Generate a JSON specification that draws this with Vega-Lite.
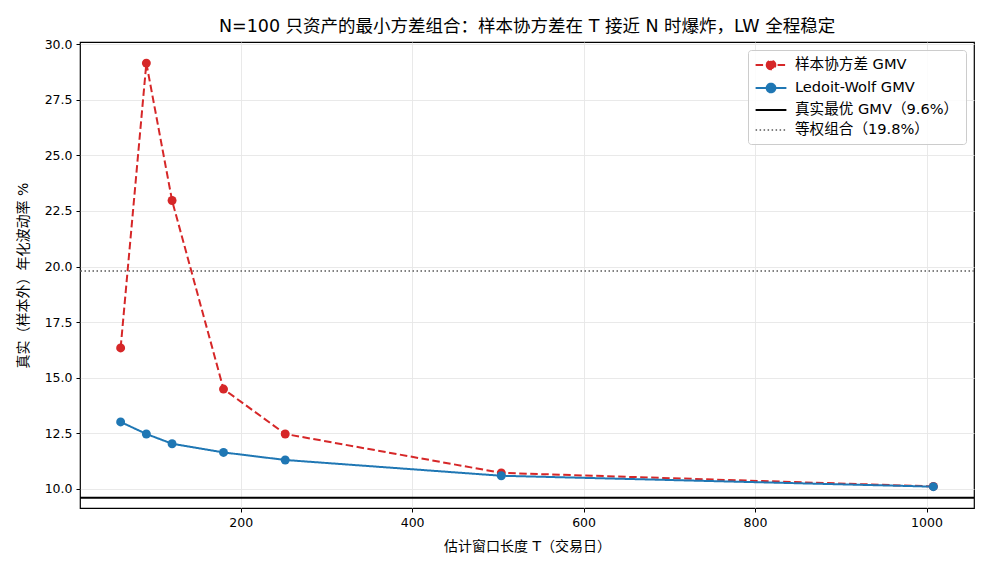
{
  "$schema": "https://vega.github.io/schema/vega-lite/v6.json",
  "width": 894,
  "height": 466,
  "autosize": {"type": "none"},
  "padding": {"left": 80, "top": 42, "right": 16, "bottom": 64},
  "background": "white",
  "config": {
    "font": "DejaVu Sans, Noto Sans CJK SC",
    "view": {"stroke": "black", "strokeWidth": 1.2},
    "axis": {
      "labelFont": "DejaVu Sans, Noto Sans CJK SC",
      "titleFont": "DejaVu Sans, Noto Sans CJK SC",
      "labelFontSize": 12.5,
      "titleFontSize": 14,
      "titleFontWeight": "normal",
      "labelColor": "#000",
      "titleColor": "#000",
      "gridColor": "#e6e6e6",
      "gridWidth": 0.9,
      "tickColor": "#000",
      "tickSize": 4,
      "domain": false,
      "labelPadding": 4
    }
  },
  "title": {
    "text": "N=100 只资产的最小方差组合：样本协方差在 T 接近 N 时爆炸，LW 全程稳定",
    "fontSize": 17.5,
    "fontWeight": "normal",
    "font": "DejaVu Sans, Noto Sans CJK SC",
    "color": "#000",
    "anchor": "middle",
    "offset": 3
  },
  "datasets": {
    "curves": [
      {"T": 60, "series": "样本协方差 GMV", "vol": 16.34},
      {"T": 90, "series": "样本协方差 GMV", "vol": 29.15},
      {"T": 120, "series": "样本协方差 GMV", "vol": 22.97},
      {"T": 180, "series": "样本协方差 GMV", "vol": 14.49},
      {"T": 252, "series": "样本协方差 GMV", "vol": 12.47},
      {"T": 504, "series": "样本协方差 GMV", "vol": 10.72},
      {"T": 1008, "series": "样本协方差 GMV", "vol": 10.11},
      {"T": 60, "series": "Ledoit-Wolf GMV", "vol": 13.01},
      {"T": 90, "series": "Ledoit-Wolf GMV", "vol": 12.47},
      {"T": 120, "series": "Ledoit-Wolf GMV", "vol": 12.03},
      {"T": 180, "series": "Ledoit-Wolf GMV", "vol": 11.64},
      {"T": 252, "series": "Ledoit-Wolf GMV", "vol": 11.30},
      {"T": 504, "series": "Ledoit-Wolf GMV", "vol": 10.59},
      {"T": 1008, "series": "Ledoit-Wolf GMV", "vol": 10.10}
    ],
    "refs": [
      {"series": "真实最优 GMV（9.6%）", "vol": 9.6},
      {"series": "等权组合（19.8%）", "vol": 19.8}
    ]
  },
  "encoding": {
    "x": {
      "field": "T",
      "type": "quantitative",
      "scale": {"domain": [12.6, 1055.4], "nice": false, "zero": false},
      "axis": {"values": [200, 400, 600, 800, 1000], "format": "d", "title": "估计窗口长度 T（交易日）", "titlePadding": 11}
    },
    "y": {
      "field": "vol",
      "type": "quantitative",
      "scale": {"domain": [9.14, 30.1], "nice": false, "zero": false},
      "axis": {"values": [10, 12.5, 15, 17.5, 20, 22.5, 25, 27.5, 30], "format": ".1f", "title": "真实（样本外）年化波动率 %", "titlePadding": 14}
    }
  },
  "layer": [
    {
      "data": {"name": "refs"},
      "mark": {"type": "rule", "strokeWidth": 1.8},
      "encoding": {
        "x": null,
        "y": {"field": "vol", "type": "quantitative"},
        "color": {"field": "series", "type": "nominal"},
        "strokeDash": {"field": "series", "type": "nominal"}
      }
    },
    {
      "data": {"name": "curves"},
      "mark": {"type": "line", "strokeWidth": 2},
      "encoding": {
        "color": {
          "field": "series",
          "type": "nominal",
          "scale": {
            "domain": ["样本协方差 GMV", "Ledoit-Wolf GMV", "真实最优 GMV（9.6%）", "等权组合（19.8%）"],
            "range": ["#d62728", "#1f77b4", "#000000", "#808080"]
          },
          "legend": {
            "title": null,
            "orient": "top-right",
            "offset": 8,
            "padding": 7,
            "fillColor": "rgba(255,255,255,0.85)",
            "strokeColor": "#cccccc",
            "cornerRadius": 3,
            "labelFontSize": 14.6,
            "labelFont": "DejaVu Sans, Noto Sans CJK SC",
            "labelColor": "#000",
            "labelLimit": 300,
            "symbolSize": 196,
            "symbolStrokeWidth": 2,
            "symbolOffset": 8,
            "labelOffset": 16,
            "rowPadding": 5,
            "encode": {
              "symbols": {
                "update": {
                  "shape": {"signal": "indexof(['样本协方差 GMV','Ledoit-Wolf GMV'], datum.value) >= 0 ? 'M-2.2,0H2.2M-0.62,0a0.62,0.62 0 1,0 1.24,0a0.62,0.62 0 1,0 -1.24,0' : 'M-2.2,0H2.2'"},
                  "fill": {"signal": "indexof(['样本协方差 GMV','Ledoit-Wolf GMV'], datum.value) >= 0 ? scale('color', datum.value) : 'transparent'"},
                  "fillOpacity": {"value": 1}
                }
              }
            }
          }
        },
        "strokeDash": {
          "field": "series",
          "type": "nominal",
          "scale": {
            "domain": ["样本协方差 GMV", "Ledoit-Wolf GMV", "真实最优 GMV（9.6%）", "等权组合（19.8%）"],
            "range": [[7.5, 3.5], [1, 0], [1, 0], [1.5, 2.5]]
          }
        },
        "order": {"field": "T"}
      }
    },
    {
      "data": {"name": "curves"},
      "mark": {"type": "point", "filled": true, "size": 80, "opacity": 1, "shape": "circle"},
      "encoding": {
        "color": {"field": "series", "type": "nominal"}
      }
    }
  ]
}
